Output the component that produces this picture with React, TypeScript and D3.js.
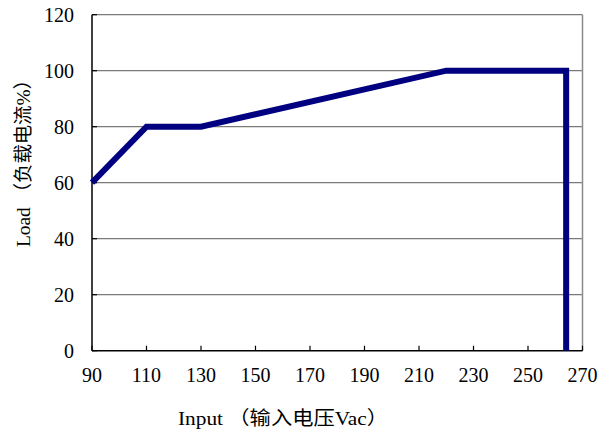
import React from "react";
import * as d3 from "d3";

const inputVoltage = [90, 110, 130, 220, 264, 264];
const loadPercent = [60, 80, 80, 100, 100, 0];
const xTicks = [90, 110, 130, 150, 170, 190, 210, 230, 250, 270];
const yTicks = [0, 20, 40, 60, 80, 100, 120];
const xTitle = "Input （输入电压Vac）";
const yTitle = "Load （负载电流%）";

const W = 613;
const H = 433;
const left = 92;
const right = 582.5;
const top = 14.7;
const bottom = 350.7;

export default function App() {
  const x = d3.scaleLinear().domain([90, 270]).range([left, right]);
  const y = d3.scaleLinear().domain([0, 120]).range([bottom, top]);
  const pts = inputVoltage.map((v, i) => [v, loadPercent[i]] as [number, number]);
  const line = d3
    .line<[number, number]>()
    .x((d) => x(d[0]))
    .y((d) => y(d[1]));
  const font = "'Liberation Serif', 'Noto Sans CJK SC', serif";
  return (
    <svg
      width={W}
      height={H}
      style={{ position: "absolute", left: 0, top: 0, background: "#fff" }}
    >
      {yTicks
        .filter((t) => t > 0)
        .map((t) => (
          <line
            key={"g" + t}
            x1={left}
            x2={right}
            y1={y(t)}
            y2={y(t)}
            stroke="#7a7a7a"
            strokeWidth={1.2}
          />
        ))}
      <line x1={right} x2={right} y1={top} y2={bottom} stroke="#8c8c8c" strokeWidth={1.5} />
      {yTicks.map((t) => (
        <line key={"yt" + t} x1={left} x2={left + 5} y1={y(t)} y2={y(t)} stroke="#000" strokeWidth={1.2} />
      ))}
      {xTicks.map((t) => (
        <line key={"xt" + t} x1={x(t)} x2={x(t)} y1={bottom} y2={bottom - 5} stroke="#000" strokeWidth={1.2} />
      ))}
      <line x1={left} x2={left} y1={top} y2={bottom} stroke="#000" strokeWidth={1.5} />
      <line x1={left} x2={right} y1={bottom} y2={bottom} stroke="#000" strokeWidth={1.5} />
      <path
        d={line(pts) || ""}
        fill="none"
        stroke="#000080"
        strokeWidth={6}
        strokeLinejoin="miter"
      />
      {yTicks.map((t) => (
        <text
          key={"yl" + t}
          x={74}
          y={y(t) + 7.5}
          textAnchor="end"
          fontFamily={font}
          fontSize={20}
          fill="#000"
        >
          {t}
        </text>
      ))}
      {xTicks.map((t) => (
        <text
          key={"xl" + t}
          x={x(t)}
          y={382}
          textAnchor="middle"
          fontFamily={font}
          fontSize={20}
          fill="#000"
        >
          {t}
        </text>
      ))}
      <text
        x={178}
        y={425}
        fontFamily={font}
        fontSize={19}
        textLength={210}
        lengthAdjust="spacingAndGlyphs"
        fill="#000"
      >
        {xTitle}
      </text>
      <text
        transform="translate(30,247) rotate(-90)"
        x={0}
        y={0}
        fontFamily={font}
        fontSize={19}
        textLength={177}
        lengthAdjust="spacingAndGlyphs"
        fill="#000"
      >
        {yTitle}
      </text>
    </svg>
  );
}
